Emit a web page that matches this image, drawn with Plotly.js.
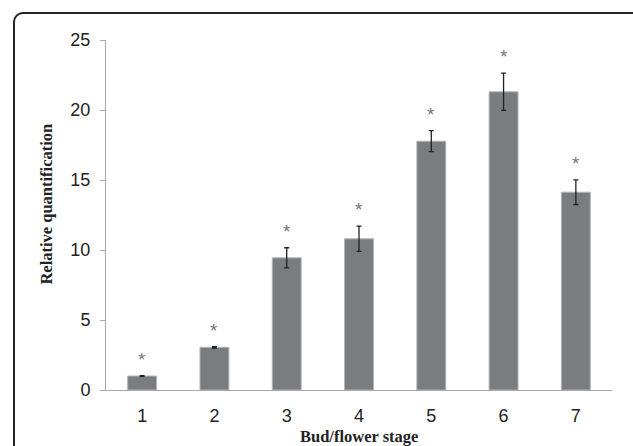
<!DOCTYPE html>
<html>
<head>
<meta charset="utf-8">
<script src="https://cdn.plot.ly/plotly-3.0.1.min.js"></script>
<style>
html,body{margin:0;padding:0;background:#fff;}
#wrap{position:relative;width:633px;height:446px;overflow:hidden;}
#chart{position:absolute;left:0;top:0;width:633px;height:446px;}
#frame{position:absolute;left:13px;top:12px;width:640px;height:460px;border:2px solid #222;border-radius:10px;pointer-events:none;box-sizing:border-box;}
</style>
</head>
<body>
<div id="wrap">
<div id="chart"></div>
<div id="frame"></div>
</div>
<script>
var stages = ["1","2","3","4","5","6","7"];
var values = [1.0, 3.05, 9.44, 10.8, 17.77, 21.3, 14.13];
var errors = [0.03, 0.05, 0.72, 0.9, 0.75, 1.33, 0.88];
var marks = ["*","*","*","*","*","*","*"];
var yTitle = "Relative quantification";
var xTitle = "Bud/flower stage";

var trace = {
  type: "bar",
  x: stages,
  y: values,
  marker: {color: "#7b7c80", line: {color: "#b4b4b6", width: 1}},
  error_y: {type: "data", array: errors, visible: true, color: "#222", thickness: 1.3, width: 2.5},
  hoverinfo: "none"
};

var annotations = stages.map(function(s, i){
  return {
    x: i, y: values[i] + errors[i], xref: "x", yref: "y",
    text: marks[i], showarrow: false, yanchor: "bottom", yshift: 4,
    font: {family: "Liberation Sans, Arial, sans-serif", size: 19, color: "#777"}
  };
});
annotations.push({
  xref: "paper", yref: "paper", x: -0.117, y: 0.532,
  xanchor: "center", yanchor: "middle", textangle: -90, showarrow: false,
  text: "<b>" + yTitle + "</b>",
  font: {family: "Liberation Serif, Times New Roman, serif", size: 16.5, color: "#222"}
});
annotations.push({
  xref: "paper", yref: "paper", x: 0.5, y: -0.133,
  xanchor: "center", yanchor: "middle", showarrow: false,
  text: "<b>" + xTitle + "</b>",
  font: {family: "Liberation Serif, Times New Roman, serif", size: 16.5, color: "#222"}
});

var layout = {
  width: 633, height: 446,
  margin: {l: 106, r: 21, t: 40, b: 56},
  paper_bgcolor: "#fff", plot_bgcolor: "#fff",
  showlegend: false,
  bargap: 0.6,
  xaxis: {
    type: "category",
    range: [-0.5, 6.5],
    showgrid: false, zeroline: false,
    showline: true, linecolor: "#a8a8a8", linewidth: 1,
    ticks: "", ticklabelstandoff: 9,
    tickfont: {family: "Liberation Sans, Arial, sans-serif", size: 18, color: "#222"}
  },
  yaxis: {
    range: [0, 25], dtick: 5,
    showgrid: false, zeroline: false,
    showline: true, linecolor: "#a8a8a8", linewidth: 1,
    ticks: "outside", ticklen: 5, tickcolor: "#a8a8a8", ticklabelstandoff: 6,
    tickfont: {family: "Liberation Sans, Arial, sans-serif", size: 18, color: "#222"}
  },
  annotations: annotations
};

Plotly.newPlot("chart", [trace], layout, {staticPlot: true, displayModeBar: false});
</script>
</body>
</html>
